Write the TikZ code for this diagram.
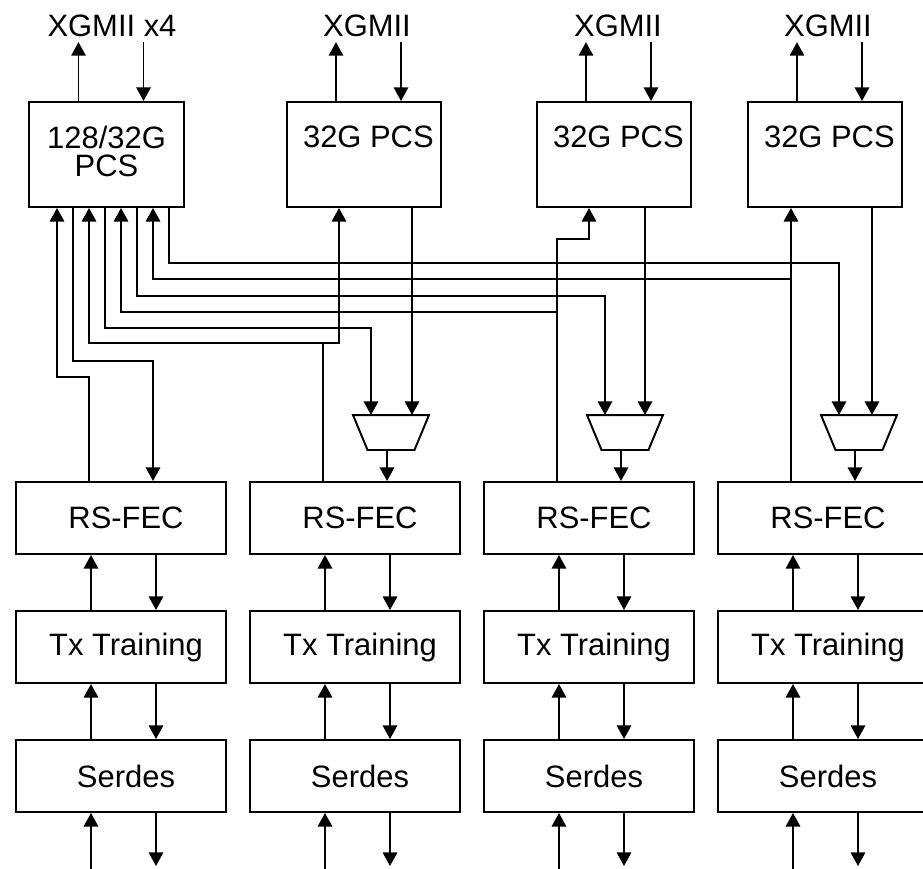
\documentclass[tikz,border=0pt]{standalone}
\usepackage{fontspec}
\setmainfont{Liberation Sans}
\usetikzlibrary{arrows.meta}
\tikzset{
    phy/.style={
        x=0.025cm, y=-0.025cm, line width=1.4pt,
        font=\fontsize{22}{20}\selectfont,
        block/.style={draw, minimum width=5.25cm, minimum height=1.8cm,
            execute at begin node={\hspace*{0.25cm}}},
        pcsbox/.style={draw, minimum width=3.85cm, minimum height=2.625cm},
        mux/.style={minimum width=1.85cm, minimum height=0.825cm, inner sep=0pt},
        sig/.style={-{Triangle[length=3.4mm, width=3.6mm]}},
    },
}

\begin{document}
\begin{tikzpicture}[phy]
            \path[use as bounding box, clip] (0,0) rectangle (923,869);

            \node[pcsbox, label={[align=center, yshift=0.075cm]center:128/32G\\PCS}] (pcs0) at (106.5,154.5) {};
            \node[pcsbox, label={[xshift=0.11cm, yshift=0.44cm]center:32G PCS}] (pcs1) at (364,154.5) {};
            \node[pcsbox, label={[xshift=0.11cm, yshift=0.44cm]center:32G PCS}] (pcs2) at (614,154.5) {};
            \node[pcsbox, label={[xshift=0.11cm, yshift=0.44cm]center:32G PCS}] (pcs3) at (825,154.5) {};

            \node (x0) at (112,25.5) {XGMII x4};
            \node (x1) at (367,25.5) {XGMII};
            \node (x2) at (618,25.5) {XGMII};
            \node (x3) at (828,25.5) {XGMII};

            \foreach \i in {0,...,3} {
                \path ([xshift=-0.7cm]pcs\i.north) coordinate (up\i)
                      ([xshift=0.925cm]pcs\i.north) coordinate (dn\i);
                \draw[sig] (up\i) -- (up\i |- x\i.south);
                \draw[sig] (dn\i |- x\i.south) -- (dn\i);
            }

            \foreach \i/\x in {0/121, 1/355, 2/589, 3/823} {
                \node[block] (fec\i) at (\x,518) {RS-FEC};
                \node[block] (trn\i) at (\x,647) {Tx Training};
                \node[block] (ser\i) at (\x,776) {Serdes};
                \coordinate (rx\i) at (\x-30,869);
                \coordinate (tx\i) at (\x+35,866);
                \path ([xshift=-0.8cm]fec\i.north) coordinate (fu\i)
                      ([xshift=0.8cm]fec\i.north) coordinate (fd\i);
                \draw[sig] (rx\i) -- (rx\i |- ser\i.south);
                \draw[sig] (rx\i |- ser\i.north) -- (rx\i |- trn\i.south);
                \draw[sig] (rx\i |- trn\i.north) -- (rx\i |- fec\i.south);
                \draw[sig] (tx\i |- fec\i.south) -- (tx\i |- trn\i.north);
                \draw[sig] (tx\i |- trn\i.south) -- (tx\i |- ser\i.north);
                \draw[sig] (tx\i |- ser\i.south) -- (tx\i);
            }

            \node[mux] (mux1) at (391,432.5) {};
            \node[mux] (mux2) at (625,432.5) {};
            \node[mux] (mux3) at (859,432.5) {};
            \foreach \i in {1,2,3} {
                \draw (mux\i.north west) -- (mux\i.north east) -- ([xshift=-0.3625cm]mux\i.south east)
                    -- ([xshift=0.3625cm]mux\i.south west) -- cycle;
                \draw[sig] (mux\i.south -| fd\i) -- (fd\i);
            }
            \path ([xshift=-0.5cm]mux1.north) coordinate (m1l) ([xshift=0.525cm]mux1.north) coordinate (m1r)
                  ([xshift=-0.5cm]mux2.north) coordinate (m2l) ([xshift=0.5cm]mux2.north) coordinate (m2r)
                  ([xshift=-0.5cm]mux3.north) coordinate (m3l) ([xshift=0.325cm]mux3.north) coordinate (m3r);

            \coordinate (k0) at (57,377);
            \coordinate (k1) at (73,361);
            \coordinate (k2) at (89,343);
            \coordinate (k3) at (105,328);
            \coordinate (k4) at (121,312);
            \coordinate (k5) at (137,296);
            \coordinate (k6) at (153,279);
            \coordinate (k7) at (169,263);
            \coordinate (k8) at (557,239);

            \draw[sig] (fu0) |- (k0) -- (k0 |- pcs0.south);
            \draw[sig] (k1 |- pcs0.south) -- (k1) -| (fd0);

            \draw[sig] (fu1) |- (k2) -- (k2 |- pcs0.south);
            \draw[sig] (fu1 |- k2) -| ([xshift=-0.625cm]pcs1.south);
            \draw[sig] (k3 |- pcs0.south) -- (k3) -| (m1l);
            \draw[sig] (m1r |- pcs1.south) -- (m1r);

            \draw[sig] (fu2) |- (k4) -- (k4 |- pcs0.south);
            \draw[sig] (fu2 |- k4) -- (k8) -| ([xshift=-0.625cm]pcs2.south);
            \draw[sig] (k5 |- pcs0.south) -- (k5) -| (m2l);
            \draw[sig] (m2r |- pcs2.south) -- (m2r);

            \draw[sig] (fu3) |- (k6) -- (k6 |- pcs0.south);
            \draw[sig] (fu3 |- k6) -- (fu3 |- pcs3.south);
            \draw[sig] (k7 |- pcs0.south) -- (k7) -| (m3l);
            \draw[sig] (m3r |- pcs3.south) -- (m3r);
        \end{tikzpicture}
\end{document}
